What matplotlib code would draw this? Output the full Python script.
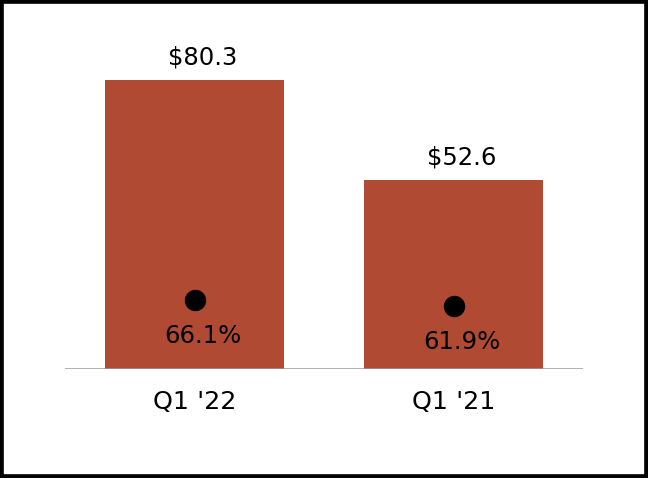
import matplotlib
matplotlib.use("Agg")
import matplotlib.pyplot as plt
from matplotlib.patches import Rectangle

categories = ["Q1 '22", "Q1 '21"]
revenue = [80.3, 52.6]
margin = [66.1, 61.9]
revenue_labels = ["$80.3", "$52.6"]
margin_labels = ["66.1%", "61.9%"]

W, H = 648, 478
fig = plt.figure(figsize=(W / 100, H / 100), dpi=100)
ax = fig.add_axes([65 / W, (H - 369) / H, (583 - 65) / W, (369 - 45) / H])
x = list(range(len(categories)))
bar_color = "#B04A33"
ax.bar(x, revenue, width=0.69, color=bar_color, zorder=2)
ax.set_xlim(-0.5, 1.5)
ax.set_ylim(0, 90)
ax.axhline(0, color="#999999", lw=1.8, zorder=3)
for s in ax.spines.values():
    s.set_visible(False)
ax.set_yticks([])
ax.set_xticks(x)
ax.set_xticklabels(categories, fontsize=18.3)
ax.tick_params(axis="x", length=0, pad=15)
for xi, v, lab in zip(x, revenue, revenue_labels):
    ax.annotate(lab, (xi, v), xytext=(5.8, 15.8), textcoords="offset points",
                ha="center", va="center", fontsize=17.5)

ax2 = ax.twinx()
ax2.set_ylim(17.8, 17.8 + 324 / 1.4286)
ax2.set_xlim(-0.5, 1.5)
for s in ax2.spines.values():
    s.set_visible(False)
ax2.set_yticks([])
ax2.plot(x, margin, "o", color="black", markersize=14.4, linestyle="none", zorder=4)
for xi, v, lab in zip(x, margin, margin_labels):
    ax2.annotate(lab, (xi, v), xytext=(5.8, -26), textcoords="offset points",
                 ha="center", va="center", fontsize=17.5)

fig.patches.append(Rectangle((0, 0), 1, 1, transform=fig.transFigure,
                             fill=False, edgecolor="black", lw=5.5, zorder=10))
fig.savefig("out.png", dpi=100)
